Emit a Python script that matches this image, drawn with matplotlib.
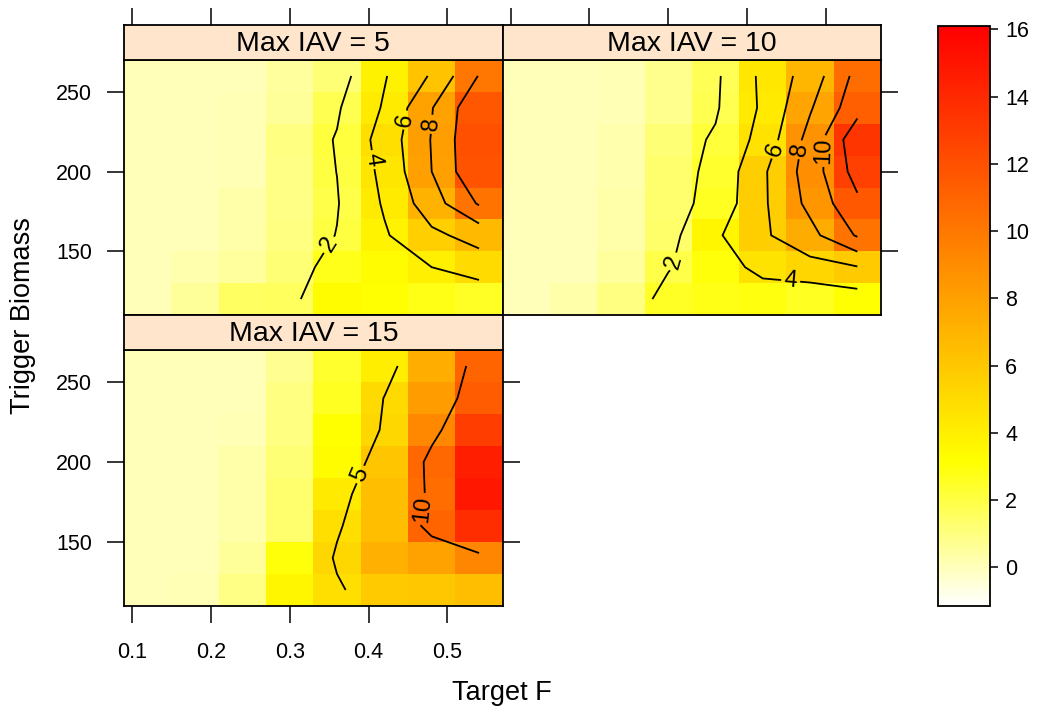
import numpy as np
import matplotlib
matplotlib.use("Agg")
import matplotlib.pyplot as plt
from matplotlib.colors import ListedColormap, Normalize, hsv_to_rgb
from matplotlib.cm import ScalarMappable

plt.rcParams['font.family'] = ['Liberation Sans', 'DejaVu Sans']

# grid of the levelplot (cell centres)
target_f = [0.12, 0.18, 0.24, 0.30, 0.36, 0.42, 0.48, 0.54]
trigger_b = [120, 140, 160, 180, 200, 220, 240, 260]

# one row per trigger biomass (bottom -> top), one value per target F
iav5 = [
    [0, 0.6, 1.5, 1.6, 3.3, 3.1, 2.8, 2.5],
    [0, 0.2, 0.5, 1.2, 2.7, 3.4, 4.0, 5.0],
    [0, 0.0, 0.3, 1.0, 2.05, 3.8, 5.6, 6.7],
    [0, 0.0, 0.3, 0.9, 1.9, 4.2, 7.1, 10.2],
    [0, 0.0, 0.1, 0.9, 2.02, 4.5, 8.0, 11.9],
    [0, 0.0, 0.1, 1.0, 2.1, 4.8, 8.1, 12.0],
    [0, 0.0, 0.1, 0.6, 1.8, 4.2, 7.9, 11.7],
    [0, 0.0, 0.0, 0.5, 1.2, 3.86, 6.2, 10.1],
]
iav10 = [
    [0, 0.3, 1.0, 2.5, 2.8, 2.9, 2.6, 3.1],
    [0, 0.0, 0.5, 1.9, 3.0, 4.6, 5.3, 5.9],
    [0, 0.0, 0.3, 1.4, 3.7, 5.7, 7.4, 10.2],
    [0, 0.0, 0.3, 1.3, 2.6, 5.7, 8.5, 11.6],
    [0, 0.0, 0.2, 1.3, 2.4, 5.7, 8.9, 12.8],
    [0, 0.0, 0.2, 1.2, 2.2, 4.7, 8.7, 13.4],
    [0, 0.0, 0.1, 0.8, 1.8, 4.3, 7.8, 11.3],
    [0, 0.0, 0.1, 0.8, 1.7, 4.4, 6.9, 10.6],
]
iav15 = [
    [0, 0.1, 0.9, 3.7, 4.8, 5.9, 6.0, 6.4],
    [0, 0.0, 0.6, 3.0, 5.2, 7.2, 7.9, 9.3],
    [0, 0.0, 0.3, 1.3, 4.8, 6.5, 11.0, 13.8],
    [0, 0.0, 0.3, 1.3, 4.3, 6.5, 10.6, 14.9],
    [0, 0.0, 0.3, 1.2, 3.3, 6.1, 10.8, 14.5],
    [0, 0.0, 0.1, 1.0, 3.2, 5.2, 9.2, 13.0],
    [0, 0.0, 0.0, 1.0, 2.6, 5.05, 8.2, 11.5],
    [0, 0.0, 0.0, 0.7, 2.4, 4.1, 7.3, 11.0],
]
strip_labels = ["Max IAV = 5", "Max IAV = 10", "Max IAV = 15"]
contour_levels = [[2, 4, 6, 8, 10], [2, 4, 6, 8, 10, 12], [5, 10]]
labelled_levels = [[2, 4, 6, 8], [2, 4, 6, 8, 10], [5, 10]]
label_spots = [
    [(0.350, 154), (0.413, 208), (0.439, 233), (0.472, 230)],
    [(0.294, 145), (0.456, 135), (0.429, 215), (0.463, 214), (0.491, 213)],
    [(0.381, 194), (0.463, 171)],
]
zmin, zmax = -1.15, 16.1


def heat_colors(n):
    # same construction as R's heat.colors(), reversed (pale -> red)
    j = n // 4
    i = n - j
    cols = [hsv_to_rgb((h, 1, 1)) for h in np.linspace(0, 1 / 6, i)]
    cols += [hsv_to_rgb((1 / 6, s, 1)) for s in np.linspace(1 - 1 / (2 * j), 1 / (2 * j), j)]
    return cols[::-1]


cmap = ListedColormap(heat_colors(256))
norm = Normalize(zmin, zmax)

W, H = 1037, 718


def box(x0, y0, x1, y1):
    return [x0 / W, 1 - y1 / H, (x1 - x0) / W, (y1 - y0) / H]


fig = plt.figure(figsize=(W / 100, H / 100), dpi=100)

f_edges = np.arange(0.09, 0.5701, 0.06)
b_edges = np.arange(110, 271, 20)
xticks = [0.1, 0.2, 0.3, 0.4, 0.5]
yticks = [150, 200, 250]
tick_kw = dict(direction="out", length=12, width=1.1, labelsize=15.5, colors="black")

# (left, top, right, bottom) of each panel in pixels, and which sides get ticks
xl, xm, xr = 124, 502.7, 881
layout = [
    dict(rect=(xl, 60, xm, 315), left=True, right=False, bottom=False, top=True),
    dict(rect=(xm, 60, xr, 315), left=False, right=True, bottom=False, top=True),
    dict(rect=(xl, 350, xm, 606), left=True, right=True, bottom=True, top=False),
]

for k, z in enumerate([iav5, iav10, iav15]):
    z = np.array(z)
    lay = layout[k]
    x0, y0, x1, y1 = lay["rect"]

    ax = fig.add_axes(box(x0, y0, x1, y1))
    ax.pcolormesh(f_edges, b_edges, z, cmap=cmap, norm=norm, shading="flat")
    cs = ax.contour(target_f, trigger_b, z, levels=contour_levels[k],
                    colors="black", linewidths=1.3)
    ax.clabel(cs, levels=labelled_levels[k], manual=label_spots[k], fmt="%d",
              fontsize=17, inline=True, inline_spacing=3)
    ax.set_xlim(0.09, 0.57)
    ax.set_ylim(110, 270)
    ax.set_xticks(xticks)
    ax.set_yticks(yticks)
    ax.tick_params(axis="both", **tick_kw)
    ax.tick_params(axis="y", left=lay["left"], labelleft=lay["left"],
                   right=lay["right"], labelright=False, pad=11)
    ax.tick_params(axis="x", bottom=lay["bottom"], labelbottom=lay["bottom"],
                   top=False, labeltop=False, pad=14)
    for sp in ax.spines.values():
        sp.set_linewidth(1.3)

    # strip on top of the panel
    sax = fig.add_axes(box(x0, y0 - 35, x1, y0))
    sax.set_facecolor("#FFE5CC")
    sax.set_xlim(0.09, 0.57)
    sax.set_yticks([])
    sax.set_xticks(xticks)
    sax.tick_params(axis="x", bottom=False, labelbottom=False,
                    top=lay["top"], labeltop=False, **tick_kw)
    for sp in sax.spines.values():
        sp.set_linewidth(1.3)
    sax.text(0.5, 0.45, strip_labels[k], transform=sax.transAxes,
             ha="center", va="center", fontsize=20.5)

# colour key
cax = fig.add_axes(box(938, 26, 990, 606))
cb = fig.colorbar(ScalarMappable(norm=norm, cmap=cmap), cax=cax,
                  ticks=list(range(0, 17, 2)))
cb.outline.set_linewidth(1.3)
cax.tick_params(direction="out", length=6, width=1.1, labelsize=15.5, pad=5)

fig.text(502 / W, 1 - 693 / H, "Target F", ha="center", va="center", fontsize=19.5)
fig.text(23 / W, 1 - 316 / H, "Trigger Biomass", ha="center", va="center",
         rotation=90, fontsize=19.5)

fig.savefig("out.png", dpi=100)
